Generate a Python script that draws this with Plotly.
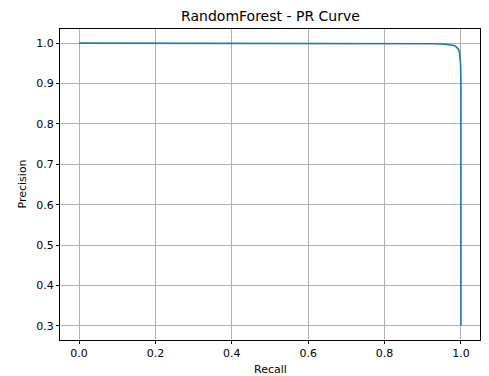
import plotly.graph_objects as go

recall = [0.0, 0.1, 0.2, 0.3, 0.4, 0.5, 0.6, 0.7, 0.8, 0.85, 0.9, 0.93, 0.95, 0.97, 0.98, 0.985, 0.99, 0.993, 0.996, 0.998, 0.999, 1.0, 1.0, 1.0]
precision = [1.0, 1.0, 1.0, 1.0, 1.0, 1.0, 1.0, 0.9998, 0.9995, 0.9993, 0.999, 0.9985, 0.998, 0.9965, 0.995, 0.993, 0.99, 0.986, 0.978, 0.965, 0.95, 0.90, 0.60, 0.30]

x_ticks = [0.0, 0.2, 0.4, 0.6, 0.8, 1.0]
y_ticks = [0.3, 0.4, 0.5, 0.6, 0.7, 0.8, 0.9, 1.0]
title_text = "RandomForest - PR Curve"
x_label = "Recall"
y_label = "Precision"

W, H = 481, 368  # page has an 8px body margin
fig = go.Figure()
fig.add_trace(go.Scatter(x=recall, y=precision, mode="lines",
                         line=dict(color="#1f77b4", width=1.6), showlegend=False))

font = dict(family="DejaVu Sans", size=11, color="black")
axis_common = dict(showline=True, linecolor="black", linewidth=1, mirror=True,
                   ticks="outside", ticklen=3, tickcolor="black", tickwidth=1,
                   showgrid=True, gridcolor="#b0b0b0", gridwidth=0.8,
                   zeroline=False, tickfont=font)

fig.update_layout(
    width=W, height=H,
    margin=dict(l=52, r=9, t=21, b=36),
    plot_bgcolor="white", paper_bgcolor="white",
    title=dict(text=title_text, x=262.5 / W, xanchor="center", y=1 - 8 / H, yanchor="middle",
               font=dict(family="DejaVu Sans", size=14, color="black")),
    xaxis=dict(range=[-0.05, 1.05], tickvals=x_ticks, ticktext=[f"{v:.1f}" for v in x_ticks], **axis_common),
    yaxis=dict(range=[0.265, 1.035], tickvals=y_ticks, ticktext=[f"{v:.1f}" for v in y_ticks], **axis_common),
    annotations=[
        dict(text=x_label, xref="paper", yref="paper", x=0.5, y=-29 / 311, xanchor="center", yanchor="middle",
             showarrow=False, font=font),
        dict(text=y_label, xref="paper", yref="paper", x=-38 / 420, y=0.5, xanchor="center", yanchor="middle",
             textangle=-90, showarrow=False, font=font),
    ],
)

fig.write_html("out.html")
